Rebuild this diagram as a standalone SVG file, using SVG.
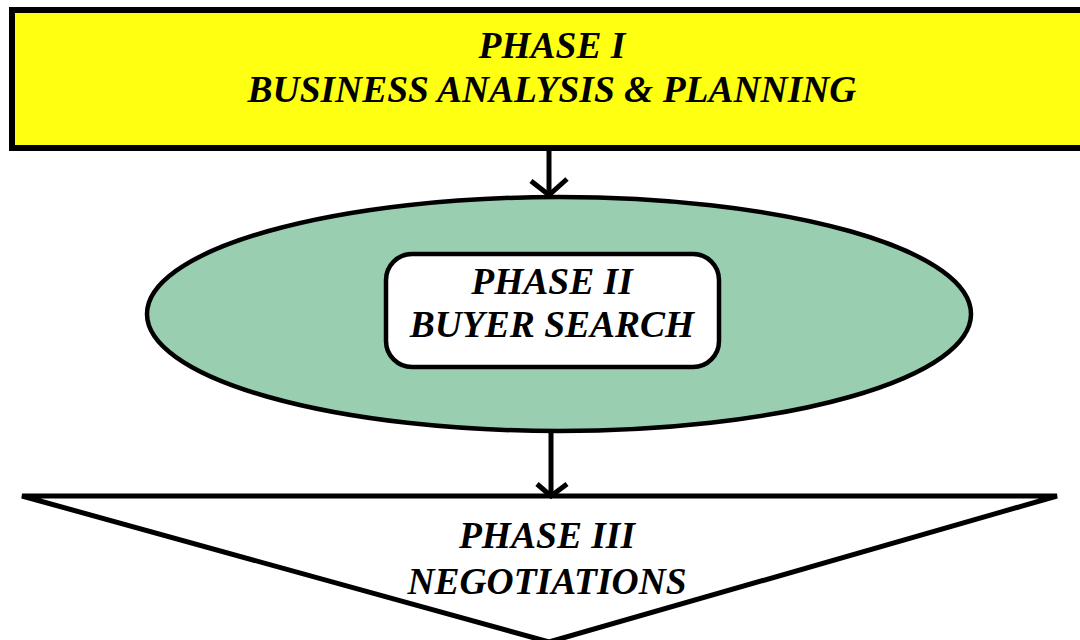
<svg xmlns="http://www.w3.org/2000/svg" width="1080" height="640" viewBox="0 0 1080 640">
  <style>
    .lbl { font-family: "Liberation Serif", "Times New Roman", serif; font-weight: bold; font-style: italic; font-size: 37.5px; fill: #000; text-anchor: middle; }
    .edge { stroke: #000; stroke-width: 5; fill: none; }
  </style>
  <rect width="1080" height="640" fill="#fff"/>
  <g id="phase1">
    <rect x="12" y="10" width="1090" height="138" fill="#ffff11" stroke="#000" stroke-width="6"/>
    <text class="lbl" x="552" y="58">PHASE I</text>
    <text class="lbl" x="552" y="102">BUSINESS ANALYSIS &amp; PLANNING</text>
  </g>
  <g id="phase2">
    <ellipse cx="559" cy="314" rx="412" ry="117" fill="#99cfb0" stroke="#000" stroke-width="4.5"/>
    <rect x="386" y="254" width="333" height="113" rx="26" ry="26" fill="#fff" stroke="#000" stroke-width="4.5"/>
    <text class="lbl" x="552" y="294">PHASE II</text>
    <text class="lbl" x="552" y="337">BUYER SEARCH</text>
  </g>
  <g id="phase3">
    <polygon points="22,496 1057,496 549,642" fill="#fff" stroke="#000" stroke-width="5" stroke-linejoin="miter"/>
    <text class="lbl" x="547" y="548">PHASE III</text>
    <text class="lbl" x="547" y="594">NEGOTIATIONS</text>
  </g>
  <g id="connectors">
    <line class="edge" x1="549" y1="151" x2="549" y2="195"/>
    <polyline class="edge" points="531,181 549,195 567,179"/>
    <line class="edge" x1="551" y1="432" x2="551" y2="496"/>
    <polyline class="edge" points="537,484 551,496 567,484"/>
  </g>
</svg>
